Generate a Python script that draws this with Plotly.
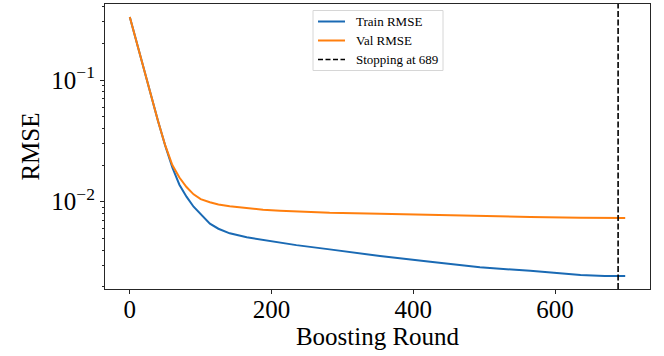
import plotly.graph_objects as go

# Boosting rounds at which the RMSE curves are sampled
rounds = [0, 10, 20, 30, 40, 50, 60, 70, 80, 90, 100, 113, 125, 141, 165, 188,
          212, 235, 282, 353, 424, 494, 565, 636, 670, 699]
train_rmse = [0.330, 0.200, 0.120, 0.0741, 0.0457, 0.0288, 0.0191, 0.0138, 0.0110,
              0.0091, 0.0079, 0.0066, 0.0060, 0.0055, 0.0051, 0.00484, 0.0046,
              0.0044, 0.00406, 0.00358, 0.00321, 0.00289, 0.00271, 0.0025,
              0.00245, 0.00245]
val_rmse = [0.330, 0.200, 0.120, 0.0741, 0.0457, 0.0290, 0.0200, 0.0158, 0.0132,
            0.0115, 0.0105, 0.0099, 0.0095, 0.0092, 0.00885, 0.0086, 0.00844,
            0.0083, 0.0081, 0.00795, 0.00778, 0.00762, 0.00749, 0.0074,
            0.00737, 0.00735]
stop_round = 689

y_major = [0.01, 0.1]
y_major_text = ["10<sup>\u22122</sup>", "10<sup>\u22121</sup>"]
y_minor = [0.002, 0.003, 0.004, 0.005, 0.006, 0.007, 0.008, 0.009,
           0.02, 0.03, 0.04, 0.05, 0.06, 0.07, 0.08, 0.09,
           0.2, 0.3, 0.4]
x_ticks = [0, 200, 400, 600]

FONT = "Liberation Serif"
AXIS_COLOR = "#262626"
BLUE = "#1a6ab4"
ORANGE = "#ff7f0e"
X_RANGE = [-35, 734]
Y_LOG_RANGE = [-2.717, -0.3755]

# figure / plot-area geometry in pixels
W, H = 664, 356
ML, MR, MT, MB = 105, 14, 4, 67
PW, PH = W - ML - MR, H - MT - MB


def px(xp):
    return (xp - ML) / PW


def py(yp):
    return (H - MB - yp) / PH


fig = go.Figure()
fig.add_trace(go.Scatter(x=rounds, y=train_rmse, mode="lines", name="Train RMSE",
                         line=dict(color=BLUE, width=2)))
fig.add_trace(go.Scatter(x=rounds, y=val_rmse, mode="lines", name="Val RMSE",
                         line=dict(color=ORANGE, width=2)))
stop_style = dict(color="black", width=1.6, dash="6px,2.5px")
fig.add_vline(x=stop_round, line=stop_style)

# legend box drawn by hand for compact matplotlib-like spacing
fig.add_shape(type="rect", xref="paper", yref="paper",
              x0=px(313), x1=px(443), y0=py(70.5), y1=py(10.5),
              line=dict(color="#d6d6d6", width=1), fillcolor="rgba(255,255,255,0.8)",
              layer="above")
legend_rows = [("Train RMSE", dict(color=BLUE, width=2), 21.5),
               ("Val RMSE", dict(color=ORANGE, width=2), 40.5),
               (f"Stopping at {stop_round}", dict(color="black", width=1.6, dash="5px,2.5px"), 59.5)]
for label, style, yrow in legend_rows:
    fig.add_shape(type="line", xref="paper", yref="paper",
                  x0=px(318), x1=px(345), y0=py(yrow), y1=py(yrow),
                  line=style, layer="above")
    fig.add_annotation(text=label, xref="paper", yref="paper",
                       x=px(354), y=py(yrow), xanchor="left", yanchor="middle",
                       showarrow=False, font=dict(family=FONT, size=13, color="black"))

fig.update_layout(
    width=W, height=H,
    margin=dict(l=ML, r=MR, t=MT, b=MB),
    paper_bgcolor="white", plot_bgcolor="white",
    font=dict(family=FONT, size=25, color="black"),
    showlegend=False,
)
fig.update_xaxes(
    range=X_RANGE, tickvals=x_ticks, showgrid=False, zeroline=False,
    showline=True, linecolor=AXIS_COLOR, linewidth=1.2, mirror=True,
    ticks="outside", ticklen=4, tickcolor=AXIS_COLOR,
    tickfont=dict(family=FONT, size=25), ticklabelstandoff=-6,
    title=dict(text="Boosting Round", font=dict(family=FONT, size=25), standoff=0),
)
fig.update_yaxes(
    type="log", range=Y_LOG_RANGE, tickvals=y_major, ticktext=y_major_text,
    showgrid=False, zeroline=False,
    showline=True, linecolor=AXIS_COLOR, linewidth=1.2, mirror=True,
    ticks="outside", ticklen=4, tickcolor=AXIS_COLOR,
    tickfont=dict(family=FONT, size=25),
    minor=dict(tickvals=y_minor, ticks="outside", ticklen=2, tickcolor=AXIS_COLOR,
               showgrid=False),
    title=dict(text="RMSE", font=dict(family=FONT, size=25), standoff=4),
)

fig.write_html("out.html")
